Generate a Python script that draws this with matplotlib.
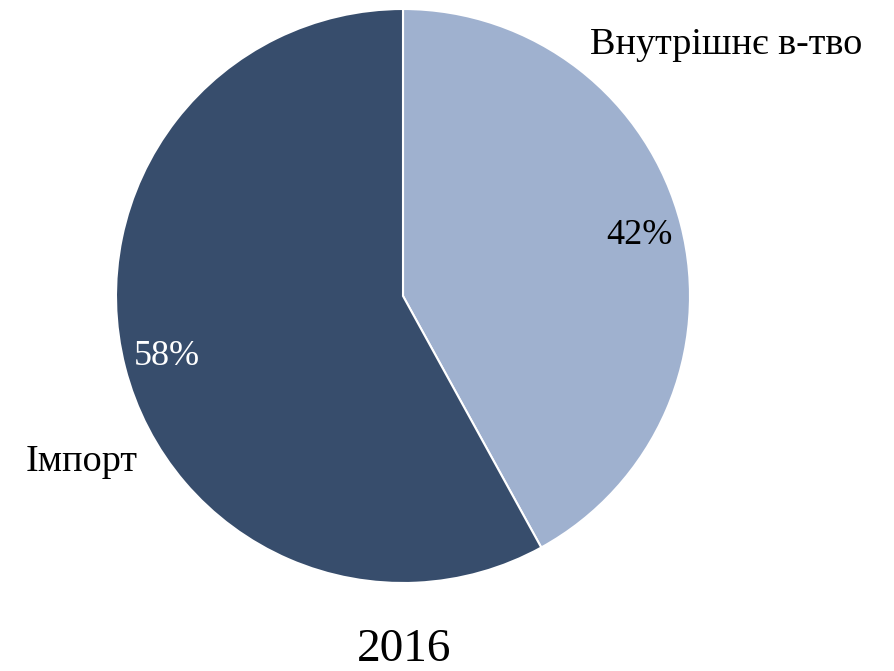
import matplotlib.pyplot as plt

# data
categories = ["Внутрішнє в-тво", "Імпорт"]
shares = [42, 58]
colors = ["#9FB1CF", "#374D6C"]
pct_colors = ["black", "white"]
year = "2016"

W, H = 894, 671
fig = plt.figure(figsize=(W / 100, H / 100), dpi=100)
ax = fig.add_axes([0, 0, 1, 1])

font = "Liberation Serif"

wedges, texts, autotexts = ax.pie(
    shares,
    colors=colors,
    startangle=90,
    counterclock=False,
    center=(403, H - 296),
    radius=287,
    autopct="%d%%",
    pctdistance=0.85,
    wedgeprops=dict(edgecolor="white", linewidth=1.5),
    frame=True,
)
ax.set_xlim(0, W)
ax.set_ylim(0, H)
ax.axis("off")

for t, c in zip(autotexts, pct_colors):
    t.set_color(c)
    t.set_fontsize(26)
    t.set_fontfamily(font)

# category labels outside the pie
label_pos = [(726, H - 45), (82, H - 462)]
for name, (x, y) in zip(categories, label_pos):
    ax.text(x, y, name, ha="center", va="center", fontsize=27.5, family=font)

ax.text(404, H - 650, year, ha="center", va="center", fontsize=34, family=font)

fig.savefig("out.png", dpi=100)
